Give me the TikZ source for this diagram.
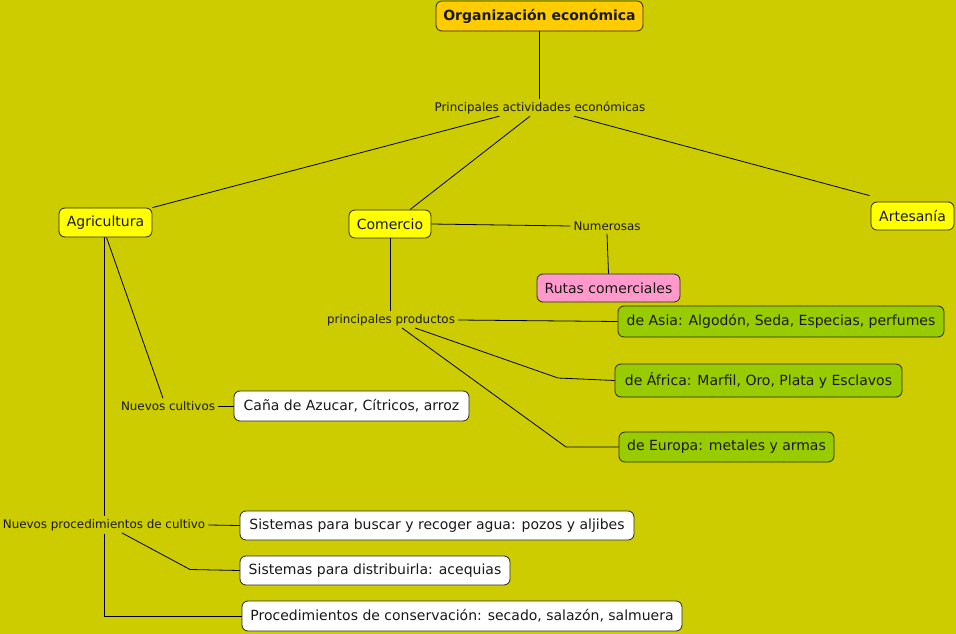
\documentclass[tikz,border=0pt]{standalone}
\usepackage{fontspec}
\setmainfont{DejaVu Sans}
\definecolor{bg}{RGB}{204,204,0}
\definecolor{orangebox}{RGB}{255,204,0}
\definecolor{yellowbox}{RGB}{255,255,0}
\definecolor{pinkbox}{RGB}{255,153,204}
\definecolor{greenbox}{RGB}{153,204,0}
\definecolor{edge}{RGB}{40,40,20}
\tikzset{
  concept/.style={draw=edge, line width=0.8pt, rounded corners=6pt, inner sep=0pt, align=center, font=\fontsize{14}{16}\selectfont, text=black!90},
  linklabel/.style={inner sep=3pt, font=\fontsize{11.9}{13}\selectfont, text=black!90},
  conn/.style={draw=black, line width=0.8pt},
}
\begin{document}
\begin{tikzpicture}[x=1pt,y=-1pt]
\fill[bg] (0,0) rectangle (956,634);
\useasboundingbox (0,0) rectangle (956,634);

% concepts
\node[concept, fill=orangebox, minimum width=207pt, minimum height=30pt, font=\fontsize{14}{16}\selectfont\bfseries] (org) at (539.5,16) {Organización económica};
\node[concept, fill=yellowbox, minimum width=93pt, minimum height=29pt] (agri) at (105.5,222.5) {Agricultura};
\node[concept, fill=yellowbox, minimum width=82pt, minimum height=28pt] (com) at (390,224) {Comercio};
\node[concept, fill=yellowbox, minimum width=83pt, minimum height=28pt] (art) at (912.5,216) {Artesanía};
\node[concept, fill=pinkbox, minimum width=143pt, minimum height=28pt] (rutas) at (608.5,288) {Rutas comerciales};
\node[concept, fill=greenbox, minimum width=326pt, minimum height=31pt] (asia) at (781,321.5) {de Asia: Algodón, Seda, Especias, perfumes};
\node[concept, fill=greenbox, minimum width=287pt, minimum height=33pt] (africa) at (758.5,380.5) {de África: Marfil, Oro, Plata y Esclavos};
\node[concept, fill=greenbox, minimum width=215pt, minimum height=30pt] (europa) at (726.5,447) {de Europa: metales y armas};
\node[concept, fill=white, minimum width=235pt, minimum height=30pt] (cana) at (351.5,406) {Caña de Azucar, Cítricos, arroz};
\node[concept, fill=white, minimum width=394pt, minimum height=29pt] (agua) at (437,525.5) {Sistemas para buscar y recoger agua: pozos y aljibes};
\node[concept, fill=white, minimum width=270pt, minimum height=29pt] (acequias) at (375,570.5) {Sistemas para distribuirla: acequias};
\node[concept, fill=white, minimum width=440pt, minimum height=30pt] (conserv) at (462,616) {Procedimientos de conservación: secado, salazón, salmuera};

% link labels
\node[linklabel] (act) at (540,108) {Principales actividades económicas};
\node[linklabel] (num) at (607,226) {Numerosas};
\node[linklabel] (prod) at (391,320) {principales productos};
\node[linklabel] (cult) at (168,406) {Nuevos cultivos};
\node[linklabel] (proc) at (104,525) {Nuevos procedimientos de cultivo};

% bend coordinates
\coordinate (bAf) at (558,378);
\coordinate (bEu) at (566,447);
\coordinate (bAc) at (190,569.5);
\coordinate (bCo) at (104,616);

% connectors
\draw[conn] (org.south) -- (org.south |- act.north);
\draw[conn] (act.south west) ++(68,-1) -- (agri.north east) ;
\draw[conn] (act.south) ++(-10,-1) -- ([xshift=20pt]com.north);
\draw[conn] (act.south) ++(34,-1) -- ([xshift=-1pt,yshift=6pt]art.north west);
\draw[conn] (com.east) -- (num.west);
\draw[conn] (num.south) -- (rutas.north);
\draw[conn] (com.south) -- (com.south |- prod.north);
\draw[conn] (prod.east) -- (asia.west);
\draw[conn] ([xshift=24pt,yshift=1pt]prod.south) -- (bAf) -- (africa.west);
\draw[conn] ([xshift=11pt,yshift=1pt]prod.south) -- (bEu) -- (europa.west);
\draw[conn] ([xshift=1pt]agri.south) -- ([xshift=-5pt]cult.north);
\draw[conn] (cult.east) -- (cana.west);
\draw[conn] ([xshift=-1.5pt]agri.south) -- (proc.north);
\draw[conn] (proc.east) -- (agua.west);
\draw[conn] ([xshift=18pt,yshift=1pt]proc.south) -- (bAc) -- (acequias.west);
\draw[conn] (proc.south) -- (bCo) -- (conserv.west);
\end{tikzpicture}
\end{document}
